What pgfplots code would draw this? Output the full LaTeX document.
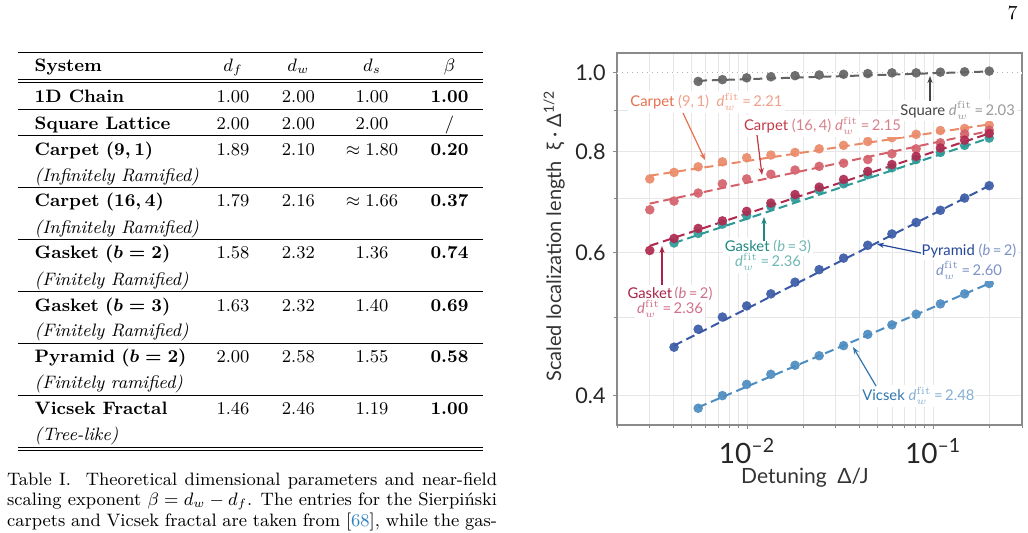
\documentclass[border=0pt]{standalone}
\usepackage{pgfplots}
\pgfplotsset{compat=1.18}
\usepackage{fontspec}
\newfontfamily\gill{Lato}
\usetikzlibrary{arrows.meta}
\definecolor{axgray}{HTML}{8A8A8A}
\definecolor{gridgray}{HTML}{E6E6E6}
\definecolor{csq}{HTML}{636363}
\definecolor{cca}{HTML}{EA8A69}
\definecolor{ccb}{HTML}{D4616A}
\definecolor{cga}{HTML}{AE2A50}
\definecolor{cgb}{HTML}{2E9A98}
\definecolor{cpy}{HTML}{3A5AA5}
\definecolor{cvi}{HTML}{4C8CC0}
\definecolor{nsq}{HTML}{444444}\definecolor{fsq}{HTML}{9A9A9A}
\definecolor{nca}{HTML}{E8704F}\definecolor{fca}{HTML}{F0A08A}
\definecolor{ncb}{HTML}{C23A48}\definecolor{fcb}{HTML}{D8808A}
\definecolor{nga}{HTML}{A82548}\definecolor{fga}{HTML}{D0708A}
\definecolor{ngb}{HTML}{1F8884}\definecolor{fgb}{HTML}{70B8B4}
\definecolor{npy}{HTML}{23479A}\definecolor{fpy}{HTML}{7D93C6}
\definecolor{nvi}{HTML}{2F76AE}\definecolor{fvi}{HTML}{86AED2}
\definecolor{citeblue}{HTML}{2A7FC0}
\newcommand\dfit[1]{\textit{d}$_{w}^{\mathrm{fit}}$\,=\,#1}
\newcommand\tabfont{\fontsize{9}{11}\selectfont}
\newcommand\annfont{\gill\fontsize{7.4}{9}\selectfont}

\pgfplotstableread{
x y
0.00546 0.976
0.00737 0.981
0.00995 0.986
0.01342 0.989
0.0181 0.992
0.0244 0.994
0.0330 0.996
0.0445 0.998
0.0600 1.000
0.0810 1.000
0.1093 1.002
0.1475 1.003
0.2 1.005
}\square
\pgfplotstableread{
x y
0.003 0.740
0.00405 0.754
0.00546 0.766
0.00737 0.777
0.00995 0.786
0.01342 0.792
0.0181 0.798
0.0244 0.806
0.0330 0.814
0.0445 0.823
0.0600 0.832
0.0810 0.840
0.1093 0.849
0.1475 0.854
0.2 0.862
}\carpeta
\pgfplotstableread{
x y
0.003 0.678
0.00405 0.695
0.00546 0.711
0.00737 0.730
0.00995 0.740
0.01342 0.750
0.0181 0.759
0.0244 0.767
0.0330 0.774
0.0445 0.782
0.0600 0.795
0.0810 0.806
0.1093 0.820
0.1475 0.841
0.2 0.850
}\carpetb
\pgfplotstableread{
x y
0.003 0.604
0.00405 0.625
0.00546 0.643
0.00737 0.657
0.00995 0.675
0.01342 0.691
0.0181 0.708
0.0244 0.723
0.0330 0.739
0.0445 0.756
0.0600 0.771
0.0810 0.789
0.1093 0.808
0.1475 0.826
0.2 0.842
}\gasketa
\pgfplotstableread{
x y
0.00405 0.617
0.00546 0.634
0.00737 0.651
0.00995 0.667
0.01342 0.685
0.0181 0.700
0.0244 0.717
0.0330 0.730
0.0445 0.749
0.0600 0.764
0.0810 0.782
0.1093 0.798
0.1475 0.814
0.2 0.831
}\gasketb
\pgfplotstableread{
x y
0.00405 0.459
0.00546 0.483
0.00737 0.500
0.00995 0.516
0.01342 0.534
0.0181 0.552
0.0244 0.572
0.0330 0.591
0.0445 0.613
0.0600 0.633
0.0810 0.654
0.1093 0.677
0.1475 0.701
0.2 0.726
}\pyramid
\pgfplotstableread{
x y
0.00546 0.386
0.00737 0.400
0.00995 0.413
0.01342 0.425
0.0181 0.436
0.0244 0.448
0.0330 0.461
0.0445 0.476
0.0600 0.489
0.0810 0.504
0.1093 0.519
0.1475 0.534
0.2 0.550
}\vicsek

\begin{document}
\begin{tikzpicture}
\useasboundingbox (0,0) rectangle (514pt,-266pt);
\begin{axis}[
  at={(308.5pt,-212.5pt)}, anchor=south west,
  scale only axis, width=202.5pt, height=186pt,
  xmode=log, ymode=log,
  xmin=0.002, xmax=0.3, ymin=0.368, ymax=1.058,
  axis line style={draw=axgray, line width=0.7pt},
  xtick={0.01,0.1},
  xticklabels={10\textsuperscript{–2},10\textsuperscript{–1}},
  minor xtick={0.002,0.003,0.004,0.005,0.006,0.007,0.008,0.009,0.02,0.03,0.04,0.05,0.06,0.07,0.08,0.09,0.2,0.3},
  ytick={0.4,0.6,0.8,1.0},
  yticklabels={0.4,0.6,0.8,1.0},
  minor ytick={0.5,0.7,0.9},
  grid=both,
  major grid style={draw=gridgray, line width=0.4pt},
  minor grid style={draw=gridgray, line width=0.4pt},
  tick align=outside, tick pos=left,
  major tick length=2.2pt, minor tick length=1.6pt,
  every tick/.style={draw=axgray, line width=0.4pt},
  xticklabel style={font=\gill\fontsize{14}{15}\selectfont, text=black!85, yshift=-1pt},
  yticklabel style={font=\gill\fontsize{10.8}{12}\selectfont, text=black!85},
  fitline/.style={dash pattern=on 4.5pt off 2.4pt, line width=1pt},
  dots/.style={only marks, mark=*, mark size=2.4pt, mark options={fill opacity=0.92, draw opacity=0}},
]
\addplot[white, line width=1pt, forget plot] coordinates {(0.002,1)(0.3,1)};
\addplot[gray!60, dotted, line width=0.5pt, forget plot] coordinates {(0.002,1)(0.3,1)};
% fit lines
\addplot[csq, fitline] coordinates {(0.00546,0.978)(0.2,1.004)};
\addplot[cca, fitline] coordinates {(0.003,0.747)(0.2,0.864)};
\addplot[ccb, fitline] coordinates {(0.003,0.690)(0.2,0.848)};
\addplot[cgb, fitline] coordinates {(0.00405,0.617)(0.2,0.831)};
\addplot[cga, fitline] coordinates {(0.003,0.612)(0.2,0.842)};
\addplot[cpy, fitline] coordinates {(0.00405,0.461)(0.2,0.726)};
\addplot[cvi, fitline] coordinates {(0.00546,0.387)(0.2,0.550)};
% data
\addplot[dots, color=csq] table {\square};
\addplot[dots, color=cca] table {\carpeta};
\addplot[dots, color=ccb] table {\carpetb};
\addplot[dots, color=cgb] table {\gasketb};
\addplot[dots, color=cga] table {\gasketa};
\addplot[dots, color=cpy] table {\pyramid};
\addplot[dots, color=cvi] table {\vicsek};
\end{axis}

\begin{scope}[x=0.5pt, y=-0.5pt]
% page number
\node[anchor=base east, inner sep=0pt, font=\fontsize{10}{12}\selectfont] at (1018,19.3) {7};
% table rules
\draw[line width=0.5pt] (18.3,52.7) -- (483.3,52.7);
\draw[line width=0.4pt] (18.3,79) -- (483.3,79);
\draw[line width=0.4pt] (18.3,82.4) -- (483.3,82.4);
\foreach \yy in {109.3,135.7,187.3,239.3,291.7,343.3,395.7}
  \draw[line width=0.4pt] (18.3,\yy) -- (483.3,\yy);
\draw[line width=0.4pt] (18.3,447.3) -- (483.3,447.3);
\draw[line width=0.5pt] (18.3,450.7) -- (483.3,450.7);
\begin{scope}[every node/.style={inner sep=0pt, font=\tabfont}]
\node[anchor=base west] at (34.3,71.7) {\textbf{System}};
\node[anchor=base] at (233,71.7) {$d_f$};
\node[anchor=base] at (298.3,71.7) {$d_w$};
\node[anchor=base] at (372,71.7) {$d_s$};
\node[anchor=base] at (449.5,71.7) {$\beta$};
% rows
\newcommand\trow[6]{%
  \node[anchor=base west] at (34.3,#1) {#2};
  \node[anchor=base] at (233,#1) {#3};
  \node[anchor=base] at (298.3,#1) {#4};
  \node[anchor=base] at (372,#1) {#5};
  \node[anchor=base] at (449.5,#1) {#6};}
\trow{102.7}{\textbf{1D Chain}}{1.00}{2.00}{1.00}{\textbf{1.00}}
\trow{129.3}{\textbf{Square Lattice}}{2.00}{2.00}{2.00}{/}
\trow{155}{\textbf{Carpet} {\boldmath$(9,1)$}}{1.89}{2.10}{$\approx 1.80$}{\textbf{0.20}}
\node[anchor=base west] at (34.3,181.7) {\textit{(Infinitely Ramified)}};
\trow{206.7}{\textbf{Carpet} {\boldmath$(16,4)$}}{1.79}{2.16}{$\approx 1.66$}{\textbf{0.37}}
\node[anchor=base west] at (34.3,233.3) {\textit{(Infinitely Ramified)}};
\trow{258.3}{\textbf{Gasket} {\boldmath$(b=2)$}}{1.58}{2.32}{1.36}{\textbf{0.74}}
\node[anchor=base west] at (34.3,285) {\textit{(Finitely Ramified)}};
\trow{311}{\textbf{Gasket} {\boldmath$(b=3)$}}{1.63}{2.32}{1.40}{\textbf{0.69}}
\node[anchor=base west] at (34.3,336.7) {\textit{(Finitely Ramified)}};
\trow{362.7}{\textbf{Pyramid} {\boldmath$(b=2)$}}{2.00}{2.58}{1.55}{\textbf{0.58}}
\node[anchor=base west] at (34.3,388.3) {\textit{(Finitely ramified)}};
\trow{414.3}{\textbf{Vicsek Fractal}}{1.46}{2.46}{1.19}{\textbf{1.00}}
\node[anchor=base west] at (34.3,440) {\textit{(Tree-like)}};
% caption
\node[anchor=base west] at (6.7,485) {\makebox[245pt][s]{Table I.\ \ Theoretical dimensional parameters and near-field}};
\node[anchor=base west] at (6.7,505.7) {\makebox[245pt][s]{scaling exponent $\beta = d_w - d_f$. The entries for the Sierpiński}};
\node[anchor=base west] at (6.7,526.7) {\makebox[245pt][s]{carpets and Vicsek fractal are taken from [\textcolor{citeblue}{68}], while the gas-}};
\end{scope}

% axis labels
\node[rotate=90, anchor=base, inner sep=0pt, font=\gill\fontsize{10}{11}\selectfont, text=black!80] at (561,236)
  {Scaled localization length\ \ ξ · Δ\textsuperscript{1/2}};
\node[anchor=base, inner sep=0pt, font=\gill\fontsize{10.5}{12}\selectfont, text=black!80] at (805,483.3)
  {Detuning\ \ Δ/J};

% annotations
\begin{scope}[every node/.style={font=\annfont, fill=white, inner sep=1pt}]
\node[anchor=base west] at (898,115) {\textcolor{nsq}{Square}\ \textcolor{fsq}{\dfit{2.03}}};
\node[anchor=base west] at (628,106.7) {\textcolor{nca}{Carpet}\ \textcolor{fca}{(9,\,1)\ \ \dfit{2.21}}};
\node[anchor=base west] at (741.7,130.7) {\textcolor{ncb}{Carpet}\ \textcolor{fcb}{(16,\,4)\ \dfit{2.15}}};
\node[anchor=base] at (768,251.7) {\textcolor{ngb}{Gasket}\ \textcolor{fgb}{(\textit{b}\,=\,3)}};
\node[anchor=base] at (768,266.7) {\textcolor{fgb}{\dfit{2.36}}};
\node[anchor=base] at (670,298.3) {\textcolor{nga}{Gasket}\,\textcolor{fga}{(\textit{b}\,=\,2)}};
\node[anchor=base] at (670,313.3) {\textcolor{fga}{\dfit{2.36}}};
\node[anchor=base] at (969,255.7) {\textcolor{npy}{Pyramid}\ \textcolor{fpy}{(\textit{b}\,=\,2)}};
\node[anchor=base] at (969,275) {\textcolor{fpy}{\dfit{2.60}}};
\node[anchor=base west] at (860,400.7) {\textcolor{nvi}{Vicsek}\ \textcolor{fvi}{\dfit{2.48}}};
\end{scope}
\begin{scope}[line width=0.6pt, -{Stealth[length=3.5pt,width=2.6pt]}]
\draw[nsq] (930,101) -- (930,76);
\draw[nca] (683,113) -- (705,160);
\draw[ncb] (757,135) -- (762,175);
\draw[ngb] (764,241) -- (764,217);
\draw[nga] (662,285) -- (662,246);
\draw[npy] (921,253) -- (877,244);
\draw[nvi] (876,386) -- (853,347);
\end{scope}
\end{scope}
\end{tikzpicture}
\end{document}
